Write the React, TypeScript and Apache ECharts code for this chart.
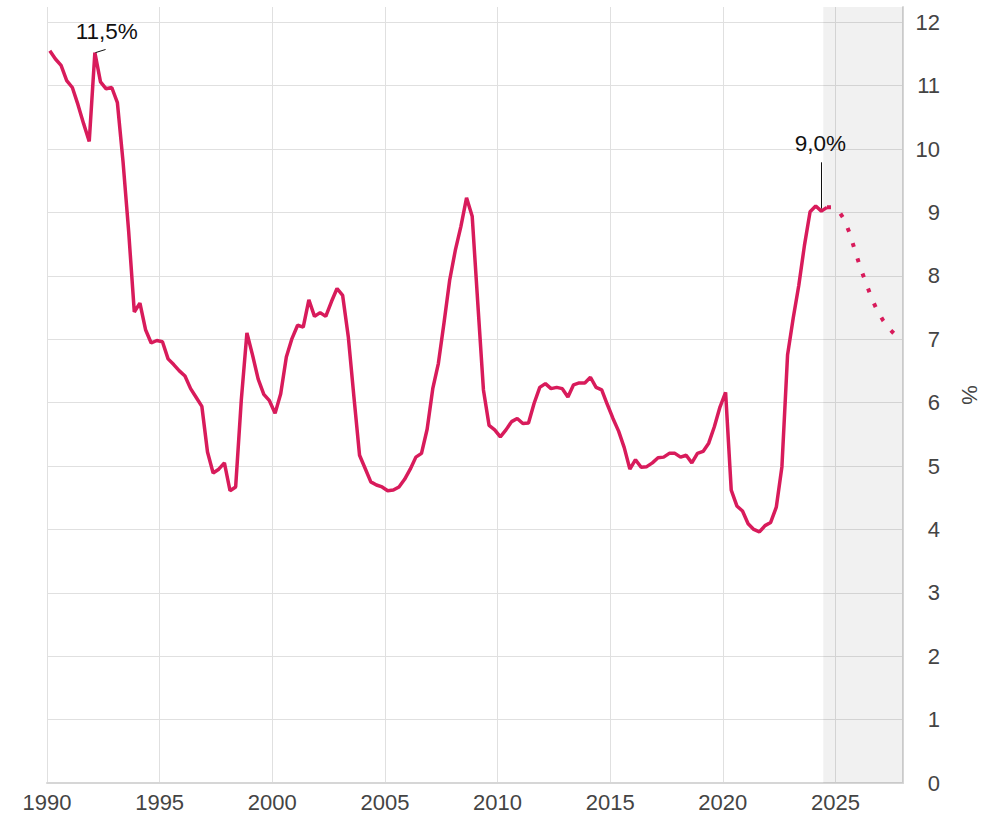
import React, { useEffect, useRef } from "react";
import * as echarts from "echarts";

// Quarterly values (quarter mid-points), 1990Q1 .. 2024Q3
const startYear = 1990;
const actualValues: number[] = [
  11.55, 11.42, 11.32, 11.08, // 1990
  10.97, 10.70, 10.40, 10.12, // 1991
  11.52, 11.06, 10.95, 10.97, // 1992
  10.73, 9.80, 8.70, 7.43, // 1993
  7.57, 7.15, 6.94, 6.98, // 1994
  6.96, 6.69, 6.60, 6.50, // 1995
  6.42, 6.22, 6.08, 5.94, // 1996
  5.22, 4.89, 4.95, 5.05, // 1997
  4.61, 4.67, 6.04, 7.10, // 1998
  6.75, 6.37, 6.13, 6.03, // 1999
  5.83, 6.14, 6.72, 7.01, // 2000
  7.22, 7.19, 7.62, 7.36, // 2001
  7.42, 7.36, 7.59, 7.80, // 2002
  7.69, 7.04, 6.09, 5.17, // 2003
  4.96, 4.75, 4.70, 4.67, // 2004
  4.61, 4.62, 4.67, 4.79, // 2005
  4.95, 5.14, 5.20, 5.58, // 2006
  6.22, 6.62, 7.26, 7.93, // 2007
  8.40, 8.78, 9.23, 8.94, // 2008
  7.56, 6.20, 5.64, 5.57, // 2009
  5.46, 5.57, 5.70, 5.75, // 2010
  5.67, 5.68, 5.99, 6.24, // 2011
  6.30, 6.22, 6.24, 6.22, // 2012
  6.09, 6.28, 6.31, 6.31, // 2013
  6.40, 6.24, 6.20, 5.97, // 2014
  5.75, 5.55, 5.29, 4.95, // 2015
  5.10, 4.98, 4.99, 5.05, // 2016
  5.13, 5.14, 5.20, 5.20, // 2017
  5.14, 5.17, 5.05, 5.20, // 2018
  5.23, 5.36, 5.62, 5.93, // 2019
  6.16, 4.62, 4.37, 4.29, // 2020
  4.09, 4.00, 3.96, 4.06, // 2021
  4.11, 4.35, 4.99, 6.75, // 2022
  7.33, 7.85, 8.48, 9.01, // 2023
  9.10, 9.02, 9.08, // 2024
];

// Forecast, 2024Q3 .. 2027Q4
const forecastStart = 2024.625;
const forecastValues: number[] = [
  9.08, 9.08, 9.03, 8.9, 8.68, 8.39, 8.11, 7.87, 7.63, 7.44, 7.29, 7.17, 7.08, 7.02,
];

const forecastAreaStart = 2024.46;
const xMin = 1990;
const xMax = 2028;
const yMax = 12.24;

const peakLabel = { text: "11,5%", point: [1992.15, 11.52], end: [1992.6, 11.57], textAt: [1992.65, 11.86] };
const lastLabel = { text: "9,0%", point: [2024.36, 9.06], end: [2024.36, 9.79], textAt: [2024.33, 10.08] };

const LINE_COLOR = "#D81B5B";
const FONT = "'Liberation Sans', Arial, sans-serif";

export default function App() {
  const ref = useRef<HTMLDivElement>(null);
  useEffect(() => {
    if (!ref.current) return;
    const chart = echarts.init(ref.current, undefined, { renderer: "svg" });
    const actual = actualValues.map((v, i) => [startYear + (i + 0.5) / 4, v]);
    const forecast = forecastValues.map((v, i) => [forecastStart + i * 0.25, v]);
    const labelPoint = (l: any) => ({
      coord: l.textAt,
      symbol: "circle",
      symbolSize: 0,
      label: {
        show: true,
        position: "inside",
        formatter: l.text,
        color: "#111",
        fontSize: 22.5,
        fontFamily: FONT,
      },
    });
    chart.setOption({
      animation: false,
      textStyle: { fontFamily: FONT },
      grid: { left: 47, right: 96, top: 7, bottom: 32, containLabel: false },
      xAxis: {
        type: "value",
        min: xMin,
        max: xMax,
        interval: 5,
        axisLine: { show: true, lineStyle: { color: "#d6d6d6", width: 2 } },
        axisTick: { show: false },
        axisLabel: {
          color: "#444",
          fontSize: 22,
          margin: 8,
          fontFamily: FONT,
          formatter: (v: number) => (v % 5 === 0 ? String(v) : ""),
        },
        splitLine: { show: true, lineStyle: { color: "#e0e0e0", width: 1 } },
      },
      yAxis: {
        type: "value",
        position: "right",
        min: 0,
        max: yMax,
        interval: 1,
        name: "%",
        nameLocation: "middle",
        nameGap: 55,
        nameRotate: -90,
        nameTextStyle: { color: "#444", fontSize: 22, fontFamily: FONT },
        axisLine: { show: true, lineStyle: { color: "#d6d6d6", width: 2 } },
        axisTick: { show: false },
        axisLabel: {
          color: "#444",
          fontSize: 22,
          align: "right",
          margin: 37,
          fontFamily: FONT,
          formatter: (v: number) => (Math.abs(v - Math.round(v)) < 1e-6 ? String(Math.round(v)) : ""),
        },
        splitLine: { show: true, showMaxLine: false, lineStyle: { color: "#e0e0e0", width: 1 } },
      },
      series: [
        {
          type: "line",
          data: forecast,
          showSymbol: false,
          lineStyle: { color: LINE_COLOR, width: 4, type: [4, 12] },
          itemStyle: { color: LINE_COLOR },
          markArea: {
            silent: true,
            itemStyle: { color: "rgba(0,0,0,0.055)" },
            data: [[{ xAxis: forecastAreaStart }, { xAxis: xMax }]],
          },
          z: 3,
        },
        {
          type: "line",
          data: actual,
          showSymbol: false,
          lineStyle: { color: LINE_COLOR, width: 3.5 },
          itemStyle: { color: LINE_COLOR },
          z: 4,
          markLine: {
            silent: true,
            symbol: "none",
            label: { show: false },
            lineStyle: { color: "#111", width: 1, type: "solid" },
            data: [
              [{ coord: peakLabel.point }, { coord: peakLabel.end }],
              [{ coord: lastLabel.point }, { coord: lastLabel.end }],
            ],
          },
          markPoint: {
            silent: true,
            data: [labelPoint(peakLabel), labelPoint(lastLabel)],
          },
        },
      ],
    });
    return () => chart.dispose();
  }, []);
  return (
    <div
      ref={ref}
      style={{ position: "fixed", left: 0, top: 0, width: 999, height: 815, background: "#fff" }}
    />
  );
}
